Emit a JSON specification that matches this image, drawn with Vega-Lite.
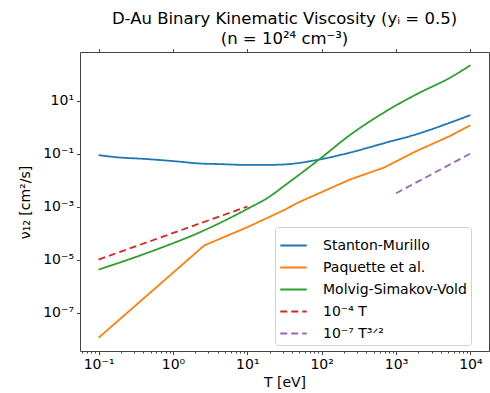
{
  "$schema": "https://vega.github.io/schema/vega-lite/v6.json",
  "width": 409,
  "height": 299,
  "autosize": {"type": "none"},
  "padding": {"left": 80, "top": 52, "right": 1, "bottom": 42},
  "background": "white",
  "title": {
    "text": ["D-Au Binary Kinematic Viscosity (yᵢ = 0.5)", "(n = 10²⁴ cm⁻³)"],
    "fontSize": 16.5,
    "font": "DejaVu Sans",
    "fontWeight": "normal",
    "lineHeight": 20,
    "offset": 1,
    "anchor": "middle",
    "color": "black"
  },
  "config": {
    "view": {"stroke": "#444", "strokeWidth": 1},
    "axis": {
      "grid": false,
      "domain": false,
      "labelFont": "DejaVu Sans",
      "labelFontSize": 14,
      "labelColor": "black",
      "titleFont": "DejaVu Sans",
      "titleFontSize": 14,
      "titleFontWeight": "normal",
      "titleColor": "black",
      "tickColor": "#444",
      "labelOverlap": false,
      "labelFlush": false
    },
    "legend": {
      "orient": "none",
      "legendX": 195,
      "legendY": 175,
      "fillColor": "white",
      "strokeColor": "#d0d0d0",
      "cornerRadius": 3,
      "padding": 4,
      "labelFont": "DejaVu Sans",
      "labelFontSize": 14,
      "labelColor": "black",
      "labelOffset": 15,
      "symbolType": "stroke",
      "symbolSize": 700,
      "symbolStrokeWidth": 1.8,
      "rowPadding": 0
    }
  },
  "data": {
    "values": [
      {"s": "Stanton-Murillo", "T": 0.1, "nu": 0.0871},
      {"s": "Stanton-Murillo", "T": 0.16, "nu": 0.0741},
      {"s": "Stanton-Murillo", "T": 0.45, "nu": 0.0617},
      {"s": "Stanton-Murillo", "T": 1.26, "nu": 0.049},
      {"s": "Stanton-Murillo", "T": 2.1, "nu": 0.0427},
      {"s": "Stanton-Murillo", "T": 4.3, "nu": 0.0398},
      {"s": "Stanton-Murillo", "T": 10, "nu": 0.0372},
      {"s": "Stanton-Murillo", "T": 18, "nu": 0.0372},
      {"s": "Stanton-Murillo", "T": 32, "nu": 0.0389},
      {"s": "Stanton-Murillo", "T": 88, "nu": 0.0575},
      {"s": "Stanton-Murillo", "T": 245, "nu": 0.11},
      {"s": "Stanton-Murillo", "T": 690, "nu": 0.245},
      {"s": "Stanton-Murillo", "T": 1900, "nu": 0.537},
      {"s": "Stanton-Murillo", "T": 5400, "nu": 1.48},
      {"s": "Stanton-Murillo", "T": 10000, "nu": 2.82},
      {"s": "Paquette et al.", "T": 0.1, "nu": 1.12e-8},
      {"s": "Paquette et al.", "T": 2.63, "nu": 3.39e-5},
      {"s": "Paquette et al.", "T": 10, "nu": 1.66e-4},
      {"s": "Paquette et al.", "T": 32, "nu": 7.59e-4},
      {"s": "Paquette et al.", "T": 48, "nu": 1.41e-3},
      {"s": "Paquette et al.", "T": 245, "nu": 0.0107},
      {"s": "Paquette et al.", "T": 690, "nu": 0.0295},
      {"s": "Paquette et al.", "T": 1900, "nu": 0.126},
      {"s": "Paquette et al.", "T": 5400, "nu": 0.468},
      {"s": "Paquette et al.", "T": 10000, "nu": 1.17},
      {"s": "Molvig-Simakov-Vold", "T": 0.1, "nu": 4.17e-6},
      {"s": "Molvig-Simakov-Vold", "T": 0.45, "nu": 1.78e-5},
      {"s": "Molvig-Simakov-Vold", "T": 2.57, "nu": 1.23e-4},
      {"s": "Molvig-Simakov-Vold", "T": 10, "nu": 8.13e-4},
      {"s": "Molvig-Simakov-Vold", "T": 20, "nu": 2.4e-3},
      {"s": "Molvig-Simakov-Vold", "T": 32, "nu": 6.31e-3},
      {"s": "Molvig-Simakov-Vold", "T": 91, "nu": 0.0575},
      {"s": "Molvig-Simakov-Vold", "T": 245, "nu": 0.52},
      {"s": "Molvig-Simakov-Vold", "T": 690, "nu": 3.55},
      {"s": "Molvig-Simakov-Vold", "T": 1900, "nu": 17.4},
      {"s": "Molvig-Simakov-Vold", "T": 5400, "nu": 74.1},
      {"s": "Molvig-Simakov-Vold", "T": 10000, "nu": 214},
      {"s": "10⁻⁴ T", "T": 0.1, "nu": 1e-5},
      {"s": "10⁻⁴ T", "T": 10, "nu": 1e-3},
      {"s": "10⁻⁷ T³ᐟ²", "T": 1000, "nu": 3.162e-3},
      {"s": "10⁻⁷ T³ᐟ²", "T": 10000, "nu": 0.1}
    ]
  },
  "layer": [
    {
      "encoding": {
        "x": {
          "field": "T", "type": "quantitative",
          "scale": {"type": "log", "domain": [0.05623, 17783], "nice": false},
          "axis": {
            "orient": "bottom",
            "title": "T [eV]",
            "titlePadding": 4,
            "labelPadding": 3,
            "values": [0.06, 0.07, 0.08, 0.09, 0.1, 0.2, 0.3, 0.4, 0.5, 0.6, 0.7, 0.8, 0.9, 1, 2, 3, 4, 5, 6, 7, 8, 9, 10, 20, 30, 40, 50, 60, 70, 80, 90, 100, 200, 300, 400, 500, 600, 700, 800, 900, 1000, 2000, 3000, 4000, 5000, 6000, 7000, 8000, 9000, 10000],
            "labelExpr": "abs(log(datum.value)/LN10 - round(log(datum.value)/LN10)) < 0.001 ? '10' + (round(log(datum.value)/LN10) < 0 ? '⁻' : '') + substring('⁰¹²³⁴⁵⁶⁷⁸⁹', abs(round(log(datum.value)/LN10)), abs(round(log(datum.value)/LN10)) + 1) : ''",
            "tickSize": {"condition": {"test": "abs(log(datum.value)/LN10 - round(log(datum.value)/LN10)) < 0.001", "value": 3.5}, "value": 2}
          }
        },
        "y": {
          "field": "nu", "type": "quantitative",
          "scale": {"type": "log", "domain": [3.548e-9, 676.1], "nice": false},
          "axis": {
            "title": "ν₁₂ [cm²/s]",
            "titleX": -55,
            "titleY": 150,
            "titleBaseline": "middle",
            "titleAlign": "center",
            "labelPadding": 3,
            "tickSize": 3.5,
            "values": [1e-7, 1e-5, 1e-3, 0.1, 10],
            "labelExpr": "'10' + (round(log(datum.value)/LN10) < 0 ? '⁻' : '') + substring('⁰¹²³⁴⁵⁶⁷⁸⁹', abs(round(log(datum.value)/LN10)), abs(round(log(datum.value)/LN10)) + 1)"
          }
        },
        "color": {
          "field": "s", "type": "nominal", "title": null,
          "scale": {
            "domain": ["Stanton-Murillo", "Paquette et al.", "Molvig-Simakov-Vold", "10⁻⁴ T", "10⁻⁷ T³ᐟ²"],
            "range": ["#1f77b4", "#ff7f0e", "#2ca02c", "#d62728", "#9467bd"]
          }
        },
        "strokeDash": {
          "field": "s", "type": "nominal", "title": null,
          "scale": {
            "domain": ["Stanton-Murillo", "Paquette et al.", "Molvig-Simakov-Vold", "10⁻⁴ T", "10⁻⁷ T³ᐟ²"],
            "range": [[1, 0], [1, 0], [1, 0], [7, 4], [7, 4]]
          }
        }
      },
      "layer": [
        {
          "transform": [{"filter": "datum.s == 'Stanton-Murillo' || datum.s == 'Molvig-Simakov-Vold'"}],
          "mark": {"type": "line", "strokeWidth": 1.8, "interpolate": "monotone"}
        },
        {
          "transform": [{"filter": "datum.s != 'Stanton-Murillo' && datum.s != 'Molvig-Simakov-Vold'"}],
          "mark": {"type": "line", "strokeWidth": 1.8}
        }
      ]
    },
    {
      "mark": {"type": "line", "strokeOpacity": 0},
      "encoding": {
        "x": {
          "field": "T", "type": "quantitative",
          "scale": {"type": "log", "domain": [0.05623, 17783], "nice": false},
          "axis": {"orient": "top", "title": null, "labels": false, "tickSize": 3.5, "values": [0.1, 1, 10, 100, 1000, 10000]}
        },
        "y": {"field": "nu", "type": "quantitative", "scale": {"type": "log", "domain": [3.548e-9, 676.1], "nice": false}},
        "detail": {"field": "s"}
      }
    }
  ],
  "resolve": {"axis": {"x": "independent"}}
}
